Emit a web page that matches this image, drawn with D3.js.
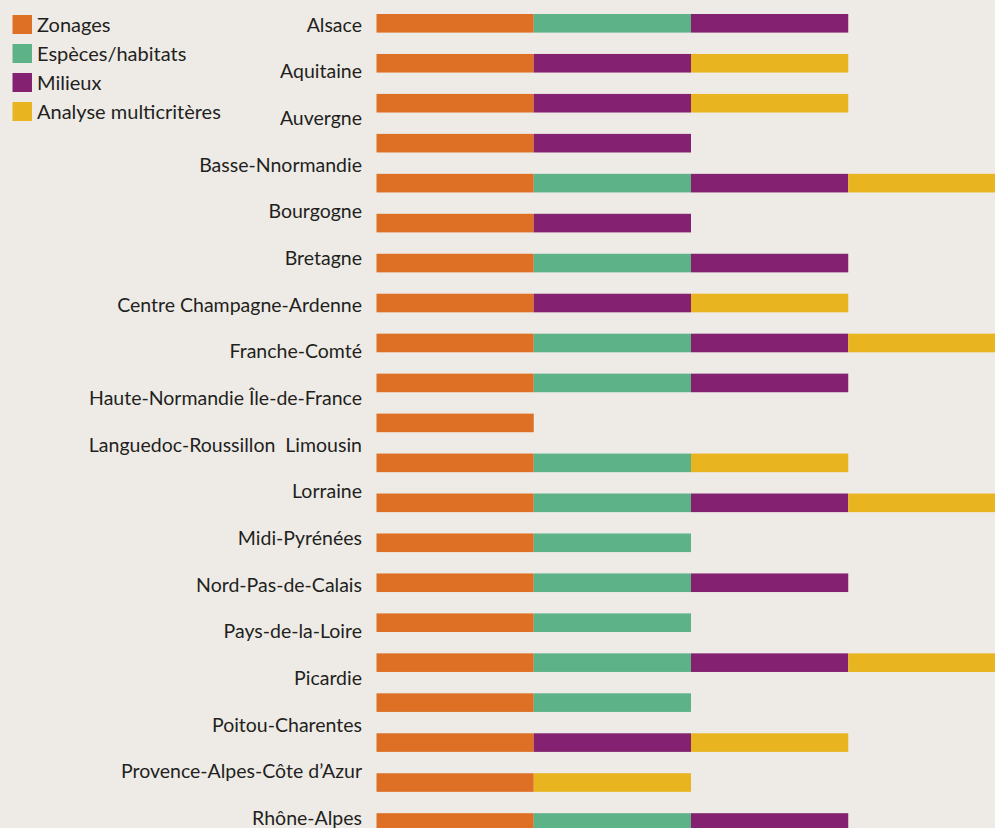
<!DOCTYPE html>
<html>
<head>
<meta charset="utf-8">
<script src="https://cdn.jsdelivr.net/npm/d3@7"></script>
<style>
  html, body { margin: 0; padding: 0; background: #EEEBE7; }
  svg { display: block; }
  text { font-family: Lato, "Liberation Sans", sans-serif; fill: #231F20; }
</style>
</head>
<body>
<svg id="chart" width="995" height="828"></svg>
<script>
// Series names (legend order)
const seriesNames = ["Zonages", "Espèces/habitats", "Milieux", "Analyse multicritères"];
const seriesColors = ["#DD7024", "#5DB287", "#842271", "#E8B41F"];

// Region labels (as printed, left column)
const regions = [
  "Alsace", "Aquitaine", "Auvergne", "Basse-Nnormandie", "Bourgogne", "Bretagne",
  "Centre Champagne-Ardenne", "Franche-Comté", "Haute-Normandie Île-de-France",
  "Languedoc-Roussillon  Limousin", "Lorraine", "Midi-Pyrénées", "Nord-Pas-de-Calais",
  "Pays-de-la-Loire", "Picardie", "Poitou-Charentes", "Provence-Alpes-Côte d’Azur", "Rhône-Alpes"
];

// Bar rows (21 bars as drawn), 1 = method used
const zonages  = [1,1,1,1,1,1,1,1,1,1,1,1,1,1,1,1,1,1,1,1,1];
const especes  = [1,0,0,0,1,0,1,0,1,1,0,1,1,1,1,1,1,1,0,0,1];
const milieux  = [1,1,1,1,1,1,1,1,1,1,0,0,1,0,1,0,1,0,1,0,1];
const analyse  = [0,1,1,0,1,0,0,1,1,0,0,1,1,0,0,0,1,0,1,1,0];

const rows = zonages.map((_, i) => ({
  idx: i,
  "Zonages": zonages[i],
  "Espèces/habitats": especes[i],
  "Milieux": milieux[i],
  "Analyse multicritères": analyse[i]
}));

const svg = d3.select("#chart");
const color = d3.scaleOrdinal().domain(seriesNames).range(seriesColors);

const x = d3.scaleLinear().domain([0, 4]).range([376.5, 1005.5]);
const yBar = d3.scaleLinear().domain([0, rows.length - 1]).range([14, 813.2]);
const barH = 18.6;
const yLabel = d3.scaleLinear().domain([0, regions.length - 1]).range([31.7, 825]);

const stacked = d3.stack().keys(seriesNames)(rows);

svg.append("g")
  .selectAll("g")
  .data(stacked)
  .join("g")
  .attr("fill", d => color(d.key))
  .selectAll("rect")
  .data(d => d.filter(s => s[1] - s[0] > 0))
  .join("rect")
  .attr("x", d => x(d[0]))
  .attr("width", d => x(d[1]) - x(d[0]))
  .attr("y", d => yBar(d.data.idx))
  .attr("height", barH);

svg.append("g")
  .selectAll("text")
  .data(regions)
  .join("text")
  .attr("x", 362)
  .attr("y", (d, i) => yLabel(i))
  .attr("text-anchor", "end")
  .attr("font-size", 19.5)
  .style("white-space", "pre")
  .attr("xml:space", "preserve")
  .text(d => d);

// Legend
const legY = d3.scaleLinear().domain([0, 3]).range([15, 102]);
const leg = svg.append("g")
  .selectAll("g")
  .data(seriesNames)
  .join("g")
  .attr("transform", (d, i) => `translate(12.5, ${legY(i)})`);
leg.append("rect")
  .attr("width", 19.5).attr("height", 19)
  .attr("fill", d => color(d));
leg.append("text")
  .attr("x", 24.5).attr("y", 16.5)
  .attr("font-size", 20)
  .text(d => d);
</script>
</body>
</html>
